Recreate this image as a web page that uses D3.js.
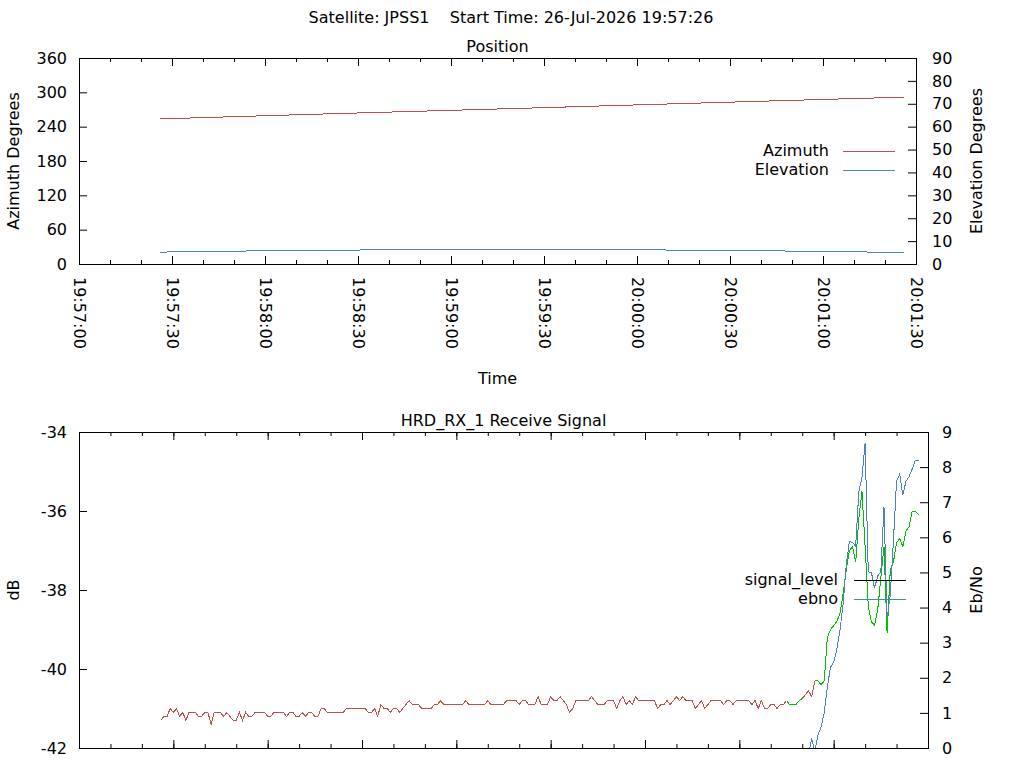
<!DOCTYPE html>
<html>
<head>
<meta charset="utf-8">
<script src="https://cdn.jsdelivr.net/npm/d3@7"></script>
<style>
  body { margin: 0; background: #fff; }
  svg { display: block; font-family: "DejaVu Sans", sans-serif; font-size: 16px; }
</style>
</head>
<body>
<svg id="chart" width="1024" height="768"></svg>
<script>
const parseTime = d3.timeParse("%H:%M:%S");
const fmtTime = d3.timeFormat("%H:%M:%S");

// time window of both panels
const timeRange = ["19:57:00", "20:01:30"];

// position panel (every 20 s)
const positionTimes = ["19:57:26", "19:57:46", "19:58:06", "19:58:26", "19:58:46", "19:59:06", "19:59:26",
  "19:59:46", "20:00:06", "20:00:26", "20:00:46", "20:01:06", "20:01:26"];
const azimuth = [253.5, 256.8, 260.1, 263.3, 266.4, 269.5, 272.6, 275.8, 279.0, 282.2, 285.4, 288.5, 291.5];
const elevation = [5.2, 5.55, 5.88, 6.08, 6.22, 6.33, 6.42, 6.33, 6.15, 5.95, 5.7, 5.4, 5.0];
const azimuthTicks = [0, 60, 120, 180, 240, 300, 360];
const elevationTicks = [0, 10, 20, 30, 40, 50, 60, 70, 80, 90];

// receive signal panel, one sample per second
const signalStart = "19:57:26";
const signalLevel = [
  -41.3, -41.2, -41.2, -41.0, -41.1, -41.0, -41.2, -41.1, -41.3, -41.1,
  -41.1, -41.1, -41.2, -41.2, -41.1, -41.1, -41.4, -41.1, -41.1, -41.1,
  -41.2, -41.1, -41.2, -41.3, -41.3, -41.1, -41.3, -41.1, -41.2, -41.2,
  -41.1, -41.1, -41.1, -41.1, -41.2, -41.2, -41.1, -41.1, -41.1, -41.1,
  -41.2, -41.1, -41.1, -41.2, -41.2, -41.1, -41.2, -41.1, -41.1, -41.2,
  -41.2, -41.0, -41.0, -41.1, -41.1, -41.1, -41.1, -41.1, -41.1, -41.0,
  -41.0, -41.0, -41.0, -41.0, -41.0, -41.0, -41.1, -41.1, -41.0, -41.2,
  -40.9, -41.0, -41.0, -41.1, -41.0, -41.0, -41.1, -41.0, -40.9, -40.8,
  -40.9, -40.9, -40.9, -41.0, -41.0, -41.0, -41.0, -40.9, -40.9, -40.8,
  -40.9, -40.9, -40.9, -40.9, -40.9, -40.9, -40.9, -40.8, -40.9, -40.9,
  -40.9, -40.9, -40.9, -40.9, -40.8, -40.9, -40.9, -40.9, -40.9, -40.9,
  -40.8, -40.8, -40.8, -40.8, -40.9, -40.8, -40.8, -40.9, -40.9, -40.9,
  -40.7, -40.9, -40.9, -40.9, -40.7, -40.8, -40.8, -40.7, -40.8, -40.9,
  -41.1, -41.0, -40.8, -40.8, -40.8, -40.8, -40.8, -40.7, -40.8, -40.9,
  -40.9, -40.9, -40.8, -40.8, -40.8, -41.0, -40.8, -40.7, -40.9, -40.8,
  -40.9, -40.7, -40.8, -40.8, -40.8, -40.8, -40.8, -40.8, -41.0, -40.9,
  -40.9, -40.8, -40.9, -40.8, -40.7, -40.8, -40.7, -40.8, -40.8, -40.8,
  -41.0, -40.9, -40.8, -41.0, -40.9, -40.8, -40.8, -40.8, -40.8, -40.9,
  -40.8, -40.8, -40.9, -40.8, -40.8, -40.8, -40.8, -40.8, -40.9, -40.8,
  -41.0, -40.8, -41.0, -41.0, -40.9, -40.9, -41.0, -40.9, -40.9, -40.8,
  -40.9, -40.9, -40.9, -40.8, -40.75, -40.65, -40.55, -40.7, -40.3, -40.3,
  -40.4, -40.3, -39.2, -39.0, -38.9, -38.8, -38.6, -38.1, -37.5, -37.0,
  -36.9, -37.3, -36.2, -35.5, -36.9, -38.4, -38.8, -38.9, -38.5, -37.7,
  -36.9, -39.1, -37.5, -37.3, -36.8, -36.7, -36.9, -36.5, -36.4, -36.0,
  -36.0, -36.1
];
const ebnoStart = "20:00:51";
const ebno = [
  -0.4, -0.2, 0.28, -0.1, 0.37, 0.6, 1.0, 1.75, 2.3, 2.45,
  2.8, 3.35, 4.1, 5.2, 5.88, 5.85, 5.75, 7.3, 7.7, 8.68,
  5.02, 5.0, 4.55, 4.9, 5.02, 6.87, 3.69, 4.36, 5.9, 7.6,
  7.8, 7.2, 7.6, 7.73, 7.95, 8.2, 8.2
];
// periods where the receiver was locked (signal drawn green)
const lockedSpans = [["20:00:45", "20:00:50"], ["20:00:54", "20:01:27"]];
const dbTicks = [-42, -40, -38, -36, -34];
const ebnoTicks = [0, 1, 2, 3, 4, 5, 6, 7, 8, 9];

const RED = "#c0504d", BLUE = "#4f81bd", GREEN = "#00c000";

const svg = d3.select("#chart");
svg.append("rect").attr("width", 1024).attr("height", 768).attr("fill", "#fff");

const t0 = parseTime(timeRange[0]);
const t1 = parseTime(timeRange[1]);
const plainNum = d => String(d);   // keep the ascii hyphen for negatives

function series(start, values) {
  const s = parseTime(start);
  return values.map((v, i) => ({ t: d3.timeSecond.offset(s, i), v: v }));
}

function cleanAxis(g) {
  g.attr("font-size", null).attr("font-family", null);
  g.select(".domain").remove();
  g.selectAll("text").attr("fill", "#000");
}

// frame with inward ticks on all four sides
function drawFrame(g, x, yL, yR, w, h, leftTicks, rightTicks, rightPad, xLabels) {
  const xMajor = d3.timeSecond.every(30);
  const xMinor = d3.timeSecond.every(10);

  g.append("g").attr("transform", `translate(0,${h})`)
    .call(d3.axisBottom(x).ticks(xMinor).tickSize(-4).tickFormat(""))
    .call(cleanAxis);
  const bottom = g.append("g").attr("transform", `translate(0,${h})`)
    .call(d3.axisBottom(x).ticks(xMajor).tickSizeInner(-8).tickSizeOuter(0)
      .tickFormat(xLabels ? fmtTime : ""))
    .call(cleanAxis);
  if (xLabels) {
    bottom.selectAll("text")
      .attr("transform", "rotate(90)")
      .attr("x", 13).attr("y", 0).attr("dy", "0.35em")
      .attr("text-anchor", "start");
  }
  g.append("g")
    .call(d3.axisTop(x).ticks(xMinor).tickSize(-4).tickFormat(""))
    .call(cleanAxis);
  g.append("g")
    .call(d3.axisTop(x).ticks(xMajor).tickSize(-8).tickFormat(""))
    .call(cleanAxis);

  g.append("g")
    .call(d3.axisLeft(yL).tickValues(leftTicks).tickFormat(plainNum)
      .tickSizeInner(-8).tickSizeOuter(0).tickPadding(12))
    .call(cleanAxis);
  g.append("g").attr("transform", `translate(${w},0)`)
    .call(d3.axisRight(yR).tickValues(rightTicks).tickFormat(plainNum)
      .tickSizeInner(-8).tickSizeOuter(0).tickPadding(rightPad))
    .call(cleanAxis);

  g.append("rect")
    .attr("x", 0.5).attr("y", 0.5)
    .attr("width", w).attr("height", h)
    .attr("fill", "none").attr("stroke", "#000").attr("stroke-width", 1)
    .attr("shape-rendering", "crispEdges");
}

function addLegend(g, entries, textRight, lineX1, lineX2) {
  entries.forEach(e => {
    g.append("text")
      .attr("x", textRight).attr("y", e.y + 5)
      .attr("text-anchor", "end")
      .text(e.label);
    g.append("line")
      .attr("x1", lineX1).attr("x2", lineX2)
      .attr("y1", e.y + 0.5).attr("y2", e.y + 0.5)
      .attr("stroke", e.color).attr("stroke-width", 1)
      .attr("shape-rendering", "crispEdges");
  });
}

// ---------- titles ----------
svg.append("text")
  .attr("x", 511).attr("y", 23)
  .attr("text-anchor", "middle")
  .style("white-space", "pre")
  .text("Satellite: JPSS1    Start Time: 26-Jul-2026 19:57:26");

// ---------- Position panel ----------
{
  const left = 79, top = 58, w = 837, h = 206;
  const x = d3.scaleTime().domain([t0, t1]).range([0, w]);
  const yL = d3.scaleLinear().domain([0, 360]).range([h, 0]);
  const yR = d3.scaleLinear().domain([0, 90]).range([h, 0]);
  const g = svg.append("g").attr("transform", `translate(${left},${top})`);

  svg.append("text").attr("x", left + w / 2).attr("y", 52)
    .attr("text-anchor", "middle").text("Position");

  drawFrame(g, x, yL, yR, w, h, azimuthTicks, elevationTicks, 16, true);

  const az = positionTimes.map((t, i) => ({ t: parseTime(t), v: azimuth[i] }));
  const el = positionTimes.map((t, i) => ({ t: parseTime(t), v: elevation[i] }));

  g.append("path").datum(az)
    .attr("fill", "none").attr("stroke", RED).attr("stroke-width", 1)
    .attr("shape-rendering", "crispEdges")
    .attr("d", d3.line().x(d => x(d.t)).y(d => yL(d.v)));
  g.append("path").datum(el)
    .attr("fill", "none").attr("stroke", BLUE).attr("stroke-width", 1)
    .attr("shape-rendering", "crispEdges")
    .attr("d", d3.line().x(d => x(d.t)).y(d => yR(d.v)));

  addLegend(svg, [
    { label: "Azimuth", y: 151, color: RED },
    { label: "Elevation", y: 170, color: BLUE }
  ], 829, 843, 895);

  svg.append("text")
    .attr("transform", `translate(19,${top + h / 2}) rotate(-90)`)
    .attr("text-anchor", "middle").text("Azimuth Degrees");
  svg.append("text")
    .attr("transform", `translate(982,${top + h / 2}) rotate(-90)`)
    .attr("text-anchor", "middle").text("Elevation Degrees");
  svg.append("text").attr("x", left + w / 2).attr("y", 384)
    .attr("text-anchor", "middle").text("Time");
}

// ---------- Receive signal panel ----------
{
  const left = 79, top = 432, w = 849, h = 316;
  const x = d3.scaleTime().domain([t0, t1]).range([0, w]);
  const yL = d3.scaleLinear().domain([-42, -34]).range([h, 0]);
  const yR = d3.scaleLinear().domain([0, 9]).range([h, 0]);
  const g = svg.append("g").attr("transform", `translate(${left},${top})`);

  svg.append("text").attr("x", left + w / 2).attr("y", 426)
    .attr("text-anchor", "middle").text("HRD_RX_1 Receive Signal");

  g.append("clipPath").attr("id", "clip-signal")
    .append("rect").attr("width", w).attr("height", h);

  drawFrame(g, x, yL, yR, w, h, dbTicks, ebnoTicks, 14, false);

  const spans = lockedSpans.map(s => [parseTime(s[0]), parseTime(s[1])]);
  const isLocked = t => spans.some(s => t >= s[0] && t <= s[1]);

  // split signal into runs of locked / unlocked segments
  const sig = series(signalStart, signalLevel);
  const runs = [];
  for (let i = 0; i < sig.length - 1; i++) {
    const locked = isLocked(sig[i].t) && isLocked(sig[i + 1].t);
    const last = runs[runs.length - 1];
    if (last && last.locked === locked) last.pts.push(sig[i + 1]);
    else runs.push({ locked: locked, pts: [sig[i], sig[i + 1]] });
  }

  const plot = g.append("g").attr("clip-path", "url(#clip-signal)");
  const sigLine = d3.line().x(d => x(d.t)).y(d => yL(d.v));
  plot.selectAll("path.sig")
    .data(runs)
    .enter().append("path")
    .attr("class", "sig")
    .attr("fill", "none").attr("stroke-width", 1)
    .attr("shape-rendering", "crispEdges")
    .attr("stroke", d => d.locked ? GREEN : RED)
    .attr("d", d => sigLine(d.pts));

  plot.append("path").datum(series(ebnoStart, ebno))
    .attr("fill", "none").attr("stroke", BLUE).attr("stroke-width", 1)
    .attr("shape-rendering", "crispEdges")
    .attr("d", d3.line().x(d => x(d.t)).y(d => yR(d.v)));

  addLegend(svg, [
    { label: "signal_level", y: 580, color: "#000" },
    { label: "ebno", y: 599, color: BLUE }
  ], 838, 854, 906);

  svg.append("text")
    .attr("transform", `translate(19,${top + h / 2}) rotate(-90)`)
    .attr("text-anchor", "middle").text("dB");
  svg.append("text")
    .attr("transform", `translate(982,${top + h / 2}) rotate(-90)`)
    .attr("text-anchor", "middle").text("Eb/No");
}
</script>
</body>
</html>
